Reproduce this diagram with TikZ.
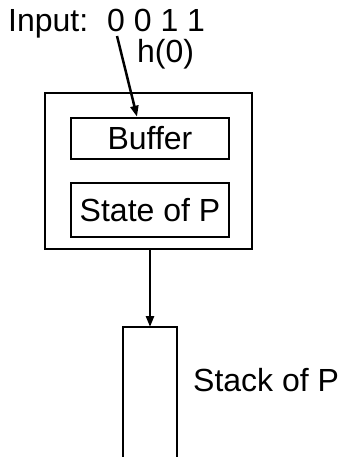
\documentclass[tikz,border=0pt]{standalone}
\usepackage{fontspec}
\setmainfont{Liberation Sans}
\usetikzlibrary{arrows.meta}
\begin{document}
\begin{tikzpicture}[x=1pt,y=-1pt,
  every node/.style={font=\fontsize{32}{38}\selectfont, inner sep=0pt},
  box/.style={draw, line width=2.5pt, inner sep=0pt},
  conn/.style={line width=2.5pt, -{Triangle[length=11pt,width=8pt]}}]
\useasboundingbox (0,0) rectangle (341,457);
% outer box
\node[box, minimum width=207pt, minimum height=156pt] (outer) at (148.5,171) {};
\node[box, minimum width=158pt, minimum height=41pt] (buffer) at (150,138.5) {Buffer};
\node[box, minimum width=158pt, minimum height=54pt] (state) at (150,210) {State of P};
% input text
\node[anchor=base west] (input) at (8,32) {Input:};
\node[anchor=base west] (bits) at (107,32) {0 0 1 1};
\node[anchor=base west] (h) at (137,63) {h(0)};
\coordinate (src) at (117,36);
\draw[conn] (src) -- (buffer.north west -| 137,0);
% stack
\coordinate (stk) at (150,327);
\draw[line width=2.5pt] (123,458) -- (123,327) -- (177,327) -- (177,458);
\node[anchor=west] (stacklabel) at (193,380) {Stack of P};
\draw[conn] (outer.south -| stk) -- (stk);
\end{tikzpicture}
\end{document}
